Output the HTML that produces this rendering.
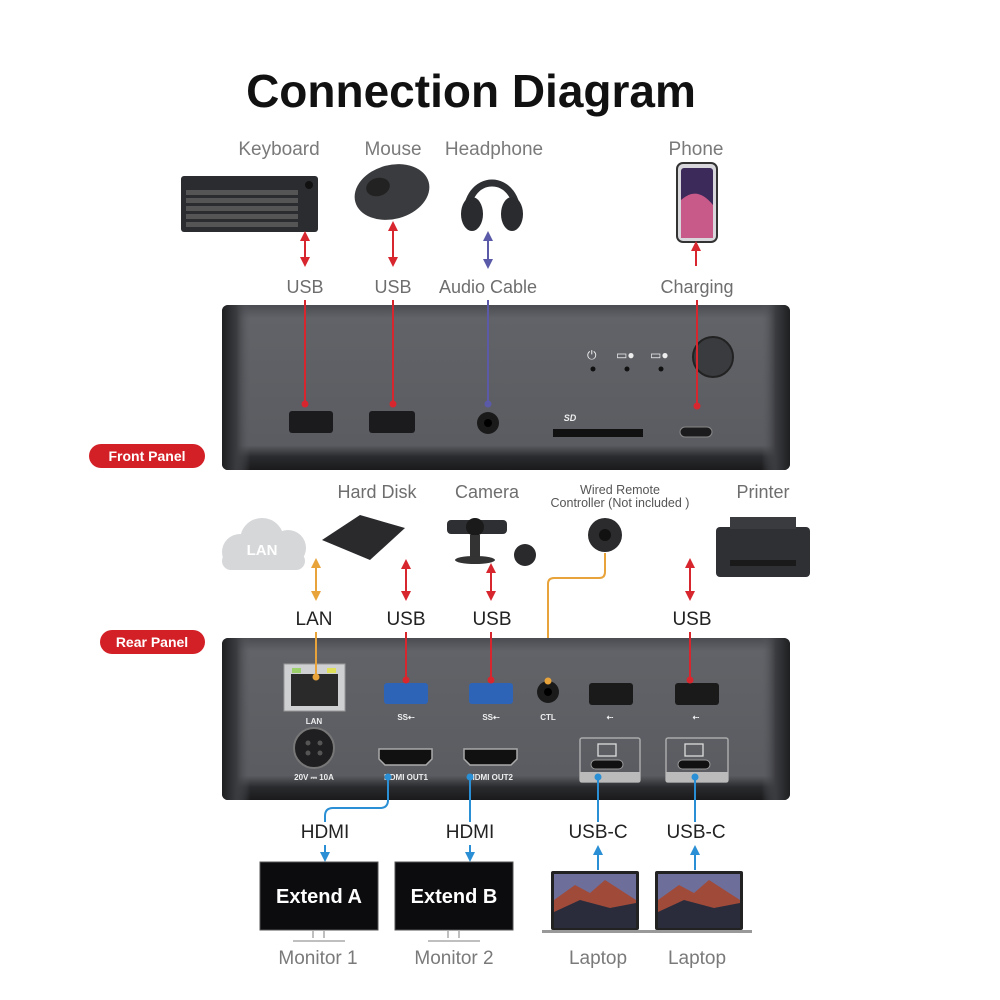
<!DOCTYPE html>
<html><head><meta charset="utf-8"><style>
html,body{margin:0;padding:0;background:#fff}
svg{display:block}
text{font-family:"Liberation Sans",sans-serif}
</style></head><body>
<svg width="1000" height="1000" viewBox="0 0 1000 1000" xmlns="http://www.w3.org/2000/svg">
<defs>
<linearGradient id="box" x1="0" y1="0" x2="0" y2="1">
<stop offset="0" stop-color="#4a4c51"/><stop offset="0.08" stop-color="#616368"/><stop offset="0.85" stop-color="#5a5c61"/><stop offset="0.92" stop-color="#2a2b2e"/><stop offset="1" stop-color="#1a1a1c"/>
</linearGradient>
<linearGradient id="side" x1="0" y1="0" x2="1" y2="0">
<stop offset="0" stop-color="#1e1f21"/><stop offset="0.025" stop-color="#3a3b3f"/><stop offset="0.05" stop-color="#5a5c61" stop-opacity="0"/><stop offset="0.95" stop-color="#5a5c61" stop-opacity="0"/><stop offset="0.975" stop-color="#3a3b3f"/><stop offset="1" stop-color="#1e1f21"/>
</linearGradient>
<marker id="ar" viewBox="0 0 10 10" refX="5" refY="5" markerWidth="5" markerHeight="5" orient="auto-start-reverse"><path d="M0,0L10,5L0,10z" fill="#d7262e"/></marker>
<marker id="ap" viewBox="0 0 10 10" refX="5" refY="5" markerWidth="5" markerHeight="5" orient="auto-start-reverse"><path d="M0,0L10,5L0,10z" fill="#5a5aa8"/></marker>
<marker id="ao" viewBox="0 0 10 10" refX="5" refY="5" markerWidth="5" markerHeight="5" orient="auto-start-reverse"><path d="M0,0L10,5L0,10z" fill="#e8a33a"/></marker>
<marker id="ab" viewBox="0 0 10 10" refX="5" refY="5" markerWidth="5" markerHeight="5" orient="auto-start-reverse"><path d="M0,0L10,5L0,10z" fill="#2a8fd4"/></marker>
</defs>

<text x="471" y="107" font-size="46" font-weight="bold" text-anchor="middle" fill="#111">Connection Diagram</text>

<g font-size="19" fill="#7a7a7a" text-anchor="middle">
<text x="279" y="155">Keyboard</text><text x="393" y="155">Mouse</text><text x="494" y="155">Headphone</text><text x="696" y="155">Phone</text>
</g>
<rect x="181" y="176" width="137" height="56" rx="3" fill="#2b2c2f"/>
<g fill="#555">
<rect x="186" y="190" width="112" height="5"/><rect x="186" y="198" width="112" height="5"/><rect x="186" y="206" width="112" height="5"/><rect x="186" y="214" width="112" height="5"/><rect x="186" y="222" width="112" height="5"/>
</g>
<circle cx="309" cy="185" r="4" fill="#111"/>
<ellipse cx="392" cy="192" rx="38" ry="27" fill="#3a3b3e" transform="rotate(-15 392 192)"/>
<ellipse cx="378" cy="187" rx="12" ry="9" fill="#222" transform="rotate(-15 378 187)"/>
<path d="M467,222 C462,170 522,170 517,222" fill="none" stroke="#2e2f32" stroke-width="7"/>
<ellipse cx="472" cy="214" rx="11" ry="17" fill="#2a2b2e"/><ellipse cx="512" cy="214" rx="11" ry="17" fill="#2a2b2e"/>
<rect x="677" y="163" width="40" height="79" rx="6" fill="#d8d8dc" stroke="#333" stroke-width="2"/>
<rect x="681" y="168" width="32" height="70" rx="3" fill="#3b2a5a"/>
<path d="M681,200 Q697,185 713,205 L713,238 L681,238z" fill="#c85a8a"/>

<g stroke-width="2" fill="none">
<line x1="305" y1="236" x2="305" y2="262" stroke="#d7262e" marker-start="url(#ar)" marker-end="url(#ar)"/>
<line x1="393" y1="226" x2="393" y2="262" stroke="#d7262e" marker-start="url(#ar)" marker-end="url(#ar)"/>
<line x1="488" y1="236" x2="488" y2="264" stroke="#5a5aa8" marker-start="url(#ap)" marker-end="url(#ap)"/>
<line x1="696" y1="246" x2="696" y2="266" stroke="#d7262e" marker-start="url(#ar)"/>
</g>
<g font-size="18" fill="#6e6e6e" text-anchor="middle">
<text x="305" y="293">USB</text><text x="393" y="293">USB</text><text x="488" y="293">Audio Cable</text><text x="697" y="293">Charging</text>
</g>

<rect x="222" y="305" width="568" height="165" rx="6" fill="url(#box)"/>
<rect x="222" y="305" width="568" height="165" rx="6" fill="url(#side)"/>
<rect x="289" y="411" width="44" height="22" rx="3" fill="#1b1b1d"/>
<rect x="369" y="411" width="46" height="22" rx="3" fill="#1b1b1d"/>
<circle cx="488" cy="423" r="11" fill="#1a1a1a"/><circle cx="488" cy="423" r="4" fill="#000"/>
<text x="570" y="421" font-size="9" font-weight="bold" font-style="italic" fill="#eee" text-anchor="middle">SD</text>
<rect x="553" y="429" width="90" height="8" fill="#111"/>
<rect x="680" y="427" width="32" height="10" rx="5" fill="#1b1b1d" stroke="#888" stroke-width="1"/>
<g fill="#111"><circle cx="593" cy="369" r="2.5"/><circle cx="627" cy="369" r="2.5"/><circle cx="661" cy="369" r="2.5"/></g>
<g fill="#eee" font-size="12"><text x="587" y="359">⏻</text><text x="616" y="359">▭●</text><text x="650" y="359">▭●</text></g>
<circle cx="713" cy="357" r="20" fill="#3a3b3f" stroke="#222" stroke-width="2"/>
<g stroke-width="2">
<line x1="305" y1="300" x2="305" y2="404" stroke="#d7262e"/><circle cx="305" cy="404" r="3.5" fill="#d7262e"/>
<line x1="393" y1="300" x2="393" y2="404" stroke="#d7262e"/><circle cx="393" cy="404" r="3.5" fill="#d7262e"/>
<line x1="488" y1="300" x2="488" y2="404" stroke="#5a5aa8"/><circle cx="488" cy="404" r="3.5" fill="#5a5aa8"/>
<line x1="697" y1="300" x2="697" y2="406" stroke="#d7262e"/><circle cx="697" cy="406" r="3.5" fill="#d7262e"/>
</g>
<rect x="89" y="444" width="116" height="24" rx="12" fill="#d32027"/>
<text x="147" y="461" font-size="14" font-weight="bold" fill="#fff" text-anchor="middle">Front Panel</text>

<g font-size="18" fill="#6e6e6e" text-anchor="middle">
<text x="377" y="498">Hard Disk</text><text x="487" y="498">Camera</text><text x="763" y="498">Printer</text>
</g>
<text x="620" y="494" font-size="12.5" fill="#555" text-anchor="middle">Wired Remote</text>
<text x="620" y="507" font-size="12.5" fill="#555" text-anchor="middle">Controller (Not included )</text>
<g fill="#d6d7d9"><circle cx="240" cy="552" r="18"/><circle cx="262" cy="540" r="22"/><circle cx="288" cy="548" r="18"/><rect x="222" y="552" width="83" height="18" rx="9"/></g>
<text x="262" y="555" font-size="15" font-weight="bold" fill="#fff" text-anchor="middle">LAN</text>
<path d="M322,540 L360,515 L405,528 L370,560z" fill="#2a2a2d"/>
<rect x="447" y="520" width="60" height="14" rx="4" fill="#2e2f32"/><circle cx="475" cy="527" r="9" fill="#1a1a1a"/>
<rect x="470" y="535" width="10" height="22" fill="#333"/><ellipse cx="475" cy="560" rx="20" ry="4" fill="#333"/>
<circle cx="525" cy="555" r="11" fill="#2a2a2d"/>
<circle cx="605" cy="535" r="17" fill="#2b2b2e"/><circle cx="605" cy="535" r="6" fill="#111"/>
<rect x="716" y="527" width="94" height="50" rx="4" fill="#2f3034"/><rect x="730" y="517" width="66" height="12" fill="#3a3b3f"/><rect x="730" y="560" width="66" height="6" fill="#1a1a1a"/>

<g stroke-width="2" fill="none">
<line x1="316" y1="563" x2="316" y2="596" stroke="#e8a33a" marker-start="url(#ao)" marker-end="url(#ao)"/>
<line x1="406" y1="564" x2="406" y2="596" stroke="#d7262e" marker-start="url(#ar)" marker-end="url(#ar)"/>
<line x1="491" y1="568" x2="491" y2="596" stroke="#d7262e" marker-start="url(#ar)" marker-end="url(#ar)"/>
<line x1="690" y1="563" x2="690" y2="596" stroke="#d7262e" marker-start="url(#ar)" marker-end="url(#ar)"/>
<path d="M605,553 L605,572 Q605,578 599,578 L554,578 Q548,578 548,584 L548,681" stroke="#e8a33a"/>
</g>
<g font-size="19" fill="#222" text-anchor="middle">
<text x="314" y="625">LAN</text><text x="406" y="625">USB</text><text x="492" y="625">USB</text><text x="692" y="625">USB</text>
</g>
<rect x="100" y="630" width="105" height="24" rx="12" fill="#d32027"/>
<text x="152" y="647" font-size="14" font-weight="bold" fill="#fff" text-anchor="middle">Rear Panel</text>

<rect x="222" y="638" width="568" height="162" rx="6" fill="url(#box)"/>
<rect x="222" y="638" width="568" height="162" rx="6" fill="url(#side)"/>
<rect x="284" y="664" width="61" height="47" fill="#cfd0d2" stroke="#999"/>
<rect x="291" y="674" width="47" height="32" fill="#2a2a2a"/>
<rect x="292" y="668" width="9" height="5" fill="#9cd06a"/><rect x="327" y="668" width="9" height="5" fill="#e1e05a"/>
<rect x="384" y="683" width="44" height="21" rx="3" fill="#2d64b8"/>
<rect x="469" y="683" width="44" height="21" rx="3" fill="#2d64b8"/>
<circle cx="548" cy="692" r="11" fill="#1a1a1a"/><circle cx="548" cy="692" r="4" fill="#000"/>
<rect x="589" y="683" width="44" height="22" rx="3" fill="#1a1a1a"/>
<rect x="675" y="683" width="44" height="22" rx="3" fill="#1a1a1a"/>
<g font-size="8" font-weight="bold" fill="#eee" text-anchor="middle">
<text x="314" y="724">LAN</text><text x="406" y="720">SS⇠</text><text x="491" y="720">SS⇠</text><text x="548" y="720">CTL</text><text x="610" y="720">⇠</text><text x="696" y="720">⇠</text>
<text x="314" y="780">20V ⎓ 10A</text><text x="406" y="780">HDMI OUT1</text><text x="491" y="780">HDMI OUT2</text>
</g>
<circle cx="314" cy="748" r="20" fill="#1f1f21" stroke="#777" stroke-width="2"/>
<g fill="#555"><circle cx="308" cy="743" r="2.5"/><circle cx="320" cy="743" r="2.5"/><circle cx="308" cy="753" r="2.5"/><circle cx="320" cy="753" r="2.5"/></g>
<path d="M379,749 h53 v10 l-6,6 h-41 l-6,-6z" fill="#111" stroke="#aaa" stroke-width="1.5"/>
<path d="M464,749 h53 v10 l-6,6 h-41 l-6,-6z" fill="#111" stroke="#aaa" stroke-width="1.5"/>
<rect x="580" y="738" width="60" height="44" rx="2" fill="none" stroke="#aaa" stroke-width="1.5"/>
<rect x="666" y="738" width="62" height="44" rx="2" fill="none" stroke="#aaa" stroke-width="1.5"/>
<rect x="580" y="772" width="60" height="10" fill="#bbb"/><rect x="666" y="772" width="62" height="10" fill="#bbb"/>
<rect x="598" y="744" width="18" height="12" fill="none" stroke="#ddd" stroke-width="1.3"/>
<rect x="685" y="744" width="18" height="12" fill="none" stroke="#ddd" stroke-width="1.3"/>
<rect x="591" y="760" width="32" height="9" rx="4.5" fill="#111" stroke="#999"/>
<rect x="678" y="760" width="32" height="9" rx="4.5" fill="#111" stroke="#999"/>

<g stroke-width="2" fill="none">
<line x1="316" y1="632" x2="316" y2="677" stroke="#e8a33a"/>
<line x1="406" y1="632" x2="406" y2="680" stroke="#d7262e"/>
<line x1="491" y1="632" x2="491" y2="680" stroke="#d7262e"/>
<line x1="690" y1="632" x2="690" y2="680" stroke="#d7262e"/>
</g>
<circle cx="316" cy="677" r="3.5" fill="#e8a33a"/><circle cx="548" cy="681" r="3.5" fill="#e8a33a"/>
<circle cx="406" cy="680" r="3.5" fill="#d7262e"/><circle cx="491" cy="680" r="3.5" fill="#d7262e"/><circle cx="690" cy="680" r="3.5" fill="#d7262e"/>

<g stroke="#2a8fd4" stroke-width="2" fill="none">
<path d="M388,777 L388,800 Q388,808 380,808 L333,808 Q325,808 325,816 L325,822"/>
<line x1="470" y1="777" x2="470" y2="822"/>
<line x1="598" y1="777" x2="598" y2="822"/>
<line x1="695" y1="777" x2="695" y2="822"/>
<line x1="325" y1="845" x2="325" y2="857" marker-end="url(#ab)"/>
<line x1="470" y1="845" x2="470" y2="857" marker-end="url(#ab)"/>
<line x1="598" y1="870" x2="598" y2="850" marker-end="url(#ab)"/>
<line x1="695" y1="870" x2="695" y2="850" marker-end="url(#ab)"/>
</g>
<g fill="#2a8fd4"><circle cx="388" cy="777" r="3.5"/><circle cx="470" cy="777" r="3.5"/><circle cx="598" cy="777" r="3.5"/><circle cx="695" cy="777" r="3.5"/></g>
<g font-size="19" fill="#222" text-anchor="middle">
<text x="325" y="838">HDMI</text><text x="470" y="838">HDMI</text><text x="598" y="838">USB-C</text><text x="696" y="838">USB-C</text>
</g>

<rect x="260" y="862" width="118" height="68" fill="#0c0c0e" stroke="#555"/>
<rect x="395" y="862" width="118" height="68" fill="#0c0c0e" stroke="#555"/>
<text x="319" y="903" font-size="20" font-weight="bold" fill="#fff" text-anchor="middle">Extend A</text>
<text x="454" y="903" font-size="20" font-weight="bold" fill="#fff" text-anchor="middle">Extend B</text>
<g fill="none" stroke="#aaa" stroke-width="1.5">
<path d="M313,930 v8 M324,930 v8 M293,941 h52"/><path d="M448,930 v8 M459,930 v8 M428,941 h52"/>
</g>
<g>
<rect x="551" y="871" width="88" height="59" rx="2" fill="#222"/>
<rect x="554" y="874" width="82" height="54" fill="#6d6f9a"/>
<path d="M554,900 L575,885 L590,893 L605,880 L636,900 L636,928 L554,928z" fill="#a04a3a"/>
<path d="M554,912 L580,900 L610,908 L636,903 L636,928 L554,928z" fill="#2a2c3c"/>
<rect x="542" y="930" width="106" height="3" fill="#999"/>
<rect x="655" y="871" width="88" height="59" rx="2" fill="#222"/>
<rect x="658" y="874" width="82" height="54" fill="#6d6f9a"/>
<path d="M658,900 L679,885 L694,893 L709,880 L740,900 L740,928 L658,928z" fill="#a04a3a"/>
<path d="M658,912 L684,900 L714,908 L740,903 L740,928 L658,928z" fill="#2a2c3c"/>
<rect x="646" y="930" width="106" height="3" fill="#999"/>
</g>
<g font-size="19" fill="#7a7a7a" text-anchor="middle">
<text x="318" y="964">Monitor 1</text><text x="454" y="964">Monitor 2</text><text x="598" y="964">Laptop</text><text x="697" y="964">Laptop</text>
</g>
</svg>
</body></html>
